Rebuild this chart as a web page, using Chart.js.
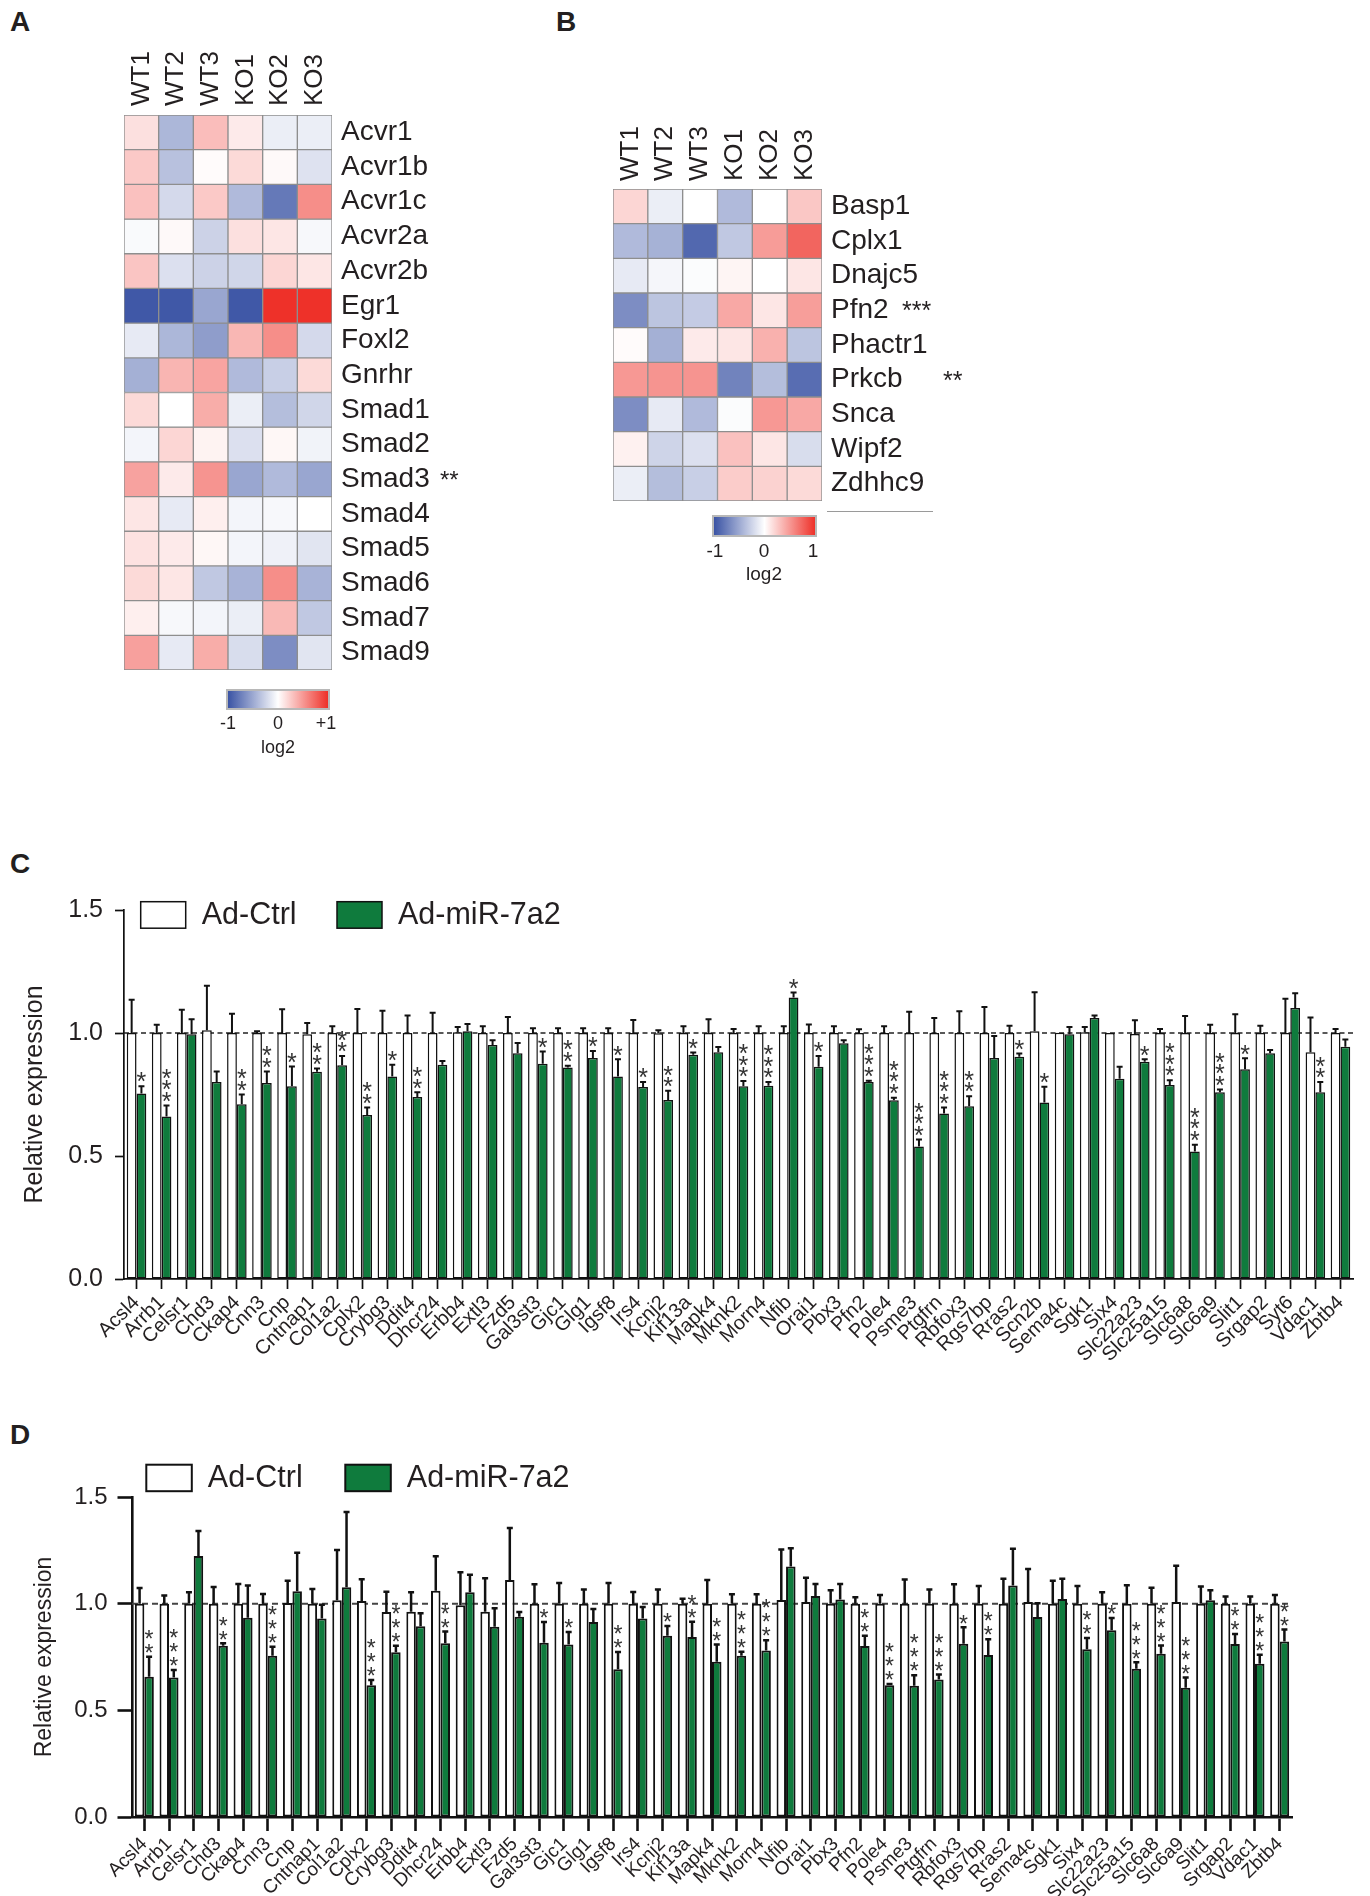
<!DOCTYPE html>
<html><head><meta charset="utf-8">
<script src="https://cdn.jsdelivr.net/npm/chart.js@4.4.1/dist/chart.umd.min.js"></script>
<style>
html,body{margin:0;padding:0;background:#fff;}
#page{position:relative;width:1370px;height:1896px;overflow:hidden;font-family:"Liberation Sans",Arial,Helvetica,sans-serif;color:#231f20;}
canvas{position:absolute;}
.lbl{position:absolute;line-height:1;white-space:nowrap;}
.panel{font-weight:bold;font-size:28px;}
.c{transform:translate(-50%,-50%);}
.cb{position:absolute;box-sizing:border-box;border:2px solid #b8b8b8;background:linear-gradient(to right, rgb(58,83,164), #ffffff 50%, rgb(238,49,41));}
</style></head>
<body><div id="page">
<div class="lbl panel" style="left:10px;top:8px">A</div>
<div class="lbl panel" style="left:556px;top:8px">B</div>
<div class="lbl panel" style="left:10px;top:850px">C</div>
<div class="lbl panel" style="left:10px;top:1421px">D</div>

<canvas id="hmA" width="560" height="700" style="left:0;top:0"></canvas>
<canvas id="hmB" width="450" height="600" style="left:560px;top:0"></canvas>
<canvas id="barC" width="1370" height="480" style="left:0;top:880px"></canvas>
<canvas id="barD" width="1370" height="456" style="left:0;top:1440px"></canvas>

<div class="cb" style="left:226px;top:689px;width:104px;height:21px"></div>
<div class="lbl c" style="left:228px;top:723px;font-size:18px">-1</div>
<div class="lbl c" style="left:278px;top:723px;font-size:18px">0</div>
<div class="lbl c" style="left:326px;top:723px;font-size:18px">+1</div>
<div class="lbl c" style="left:278px;top:747px;font-size:18px">log2</div>

<div style="position:absolute;left:827px;top:511px;width:106px;border-top:1.5px solid #9a9a9a"></div>
<div class="cb" style="left:712px;top:515px;width:105px;height:22px"></div>
<div class="lbl c" style="left:715px;top:550px;font-size:19px">-1</div>
<div class="lbl c" style="left:764px;top:550px;font-size:19px">0</div>
<div class="lbl c" style="left:813px;top:550px;font-size:19px">1</div>
<div class="lbl c" style="left:764px;top:573px;font-size:19px">log2</div>
</div>
<script>
const FONT = '"Liberation Sans", Arial, Helvetica, sans-serif';
const TXT = '#231f20';
const GREEN = '#0f7b3d';

// ---------- Heatmap data ----------
const samples = ['WT1','WT2','WT3','KO1','KO2','KO3'];
const genesA = ['Acvr1','Acvr1b','Acvr1c','Acvr2a','Acvr2b','Egr1','Foxl2','Gnrhr','Smad1','Smad2','Smad3','Smad4','Smad5','Smad6','Smad7','Smad9'];
const heatA = [
  [0.15,-0.42,0.32,0.10,-0.10,-0.10],
  [0.26,-0.36,0.02,0.18,0.03,-0.17],
  [0.30,-0.22,0.26,-0.40,-0.78,0.55],
  [-0.03,0.03,-0.26,0.15,0.12,-0.04],
  [0.28,-0.18,-0.26,-0.24,0.20,0.12],
  [-0.97,-0.97,-0.52,-0.97,1.00,1.00],
  [-0.12,-0.42,-0.57,0.35,0.55,-0.22],
  [-0.46,0.36,0.44,-0.40,-0.28,0.18],
  [0.18,0.00,0.40,-0.10,-0.38,-0.24],
  [-0.06,0.20,0.06,-0.18,0.04,-0.07],
  [0.45,0.10,0.52,-0.52,-0.40,-0.52],
  [0.12,-0.12,0.08,-0.06,-0.04,0.00],
  [0.14,0.10,0.04,-0.06,-0.08,-0.15],
  [0.18,0.12,-0.32,-0.44,0.55,-0.44],
  [0.08,-0.04,-0.06,-0.10,0.34,-0.32],
  [0.46,-0.12,0.40,-0.20,-0.66,-0.15]
];
const starsA = ['','','','','','','','','','','**','','','','',''];

const genesB = ['Basp1','Cplx1','Dnajc5','Pfn2','Phactr1','Prkcb','Snca','Wipf2','Zdhhc9'];
const heatB = [
  [0.20,-0.10,0.00,-0.40,0.00,0.27],
  [-0.40,-0.45,-0.88,-0.32,0.48,0.75],
  [-0.12,-0.05,-0.02,0.05,0.00,0.12],
  [-0.66,-0.34,-0.30,0.42,0.12,0.47],
  [0.02,-0.46,0.10,0.12,0.38,-0.34],
  [0.50,0.52,0.52,-0.72,-0.38,-0.85],
  [-0.66,-0.12,-0.40,-0.02,0.50,0.42],
  [0.07,-0.25,-0.18,0.30,0.12,-0.20],
  [-0.10,-0.38,-0.28,0.25,0.22,0.18]
];
const starsB = ['','','','***','','**','','',''];

// ---------- Bar chart data ----------
const seriesNames = ['Ad-Ctrl','Ad-miR-7a2'];
const yTickValues = [0, 0.5, 1.0, 1.5];

const categoriesC = ['Acsl4','Arrb1','Celsr1','Chd3','Ckap4','Cnn3','Cnp','Cntnap1','Col1a2','Cplx2','Crybg3','Ddit4','Dhcr24','Erbb4','Extl3','Fzd5','Gal3st3','Gjc1','Glg1','Igsf8','Irs4','Kcnj2','Kif13a','Mapk4','Mknk2','Morn4','Nfib','Orai1','Pbx3','Pfn2','Pole4','Psme3','Ptgfrn','Rbfox3','Rgs7bp','Rras2','Scn2b','Sema4c','Sgk1','Six4','Slc22a23','Slc25a15','Slc6a8','Slc6a9','Slit1','Srgap2','Syt6','Vdac1','Zbtb4'];
const ctrlC    = [1.00,1.00,1.00,1.011,1.00,1.00,1.00,0.995,1.00,1.00,1.00,1.00,1.00,1.003,1.00,1.00,1.00,1.00,1.00,1.00,1.00,0.999,1.00,1.00,1.00,1.00,1.00,1.00,1.00,1.00,1.00,1.00,1.00,1.00,1.00,1.00,1.007,1.001,1.003,1.00,0.996,1.00,1.00,1.00,1.00,1.00,1.00,0.922,1.00];
const ctrlSemC = [0.135,0.034,0.095,0.181,0.078,0.007,0.097,0.046,0.027,0.098,0.090,0.071,0.082,0.021,0.027,0.065,0.019,0.019,0.019,0.019,0.053,0.012,0.027,0.056,0.016,0.027,0.027,0.035,0.027,0.015,0.027,0.086,0.061,0.088,0.106,0.029,0.159,0.000,0.021,0.000,0.056,0.016,0.069,0.034,0.076,0.029,0.139,0.141,0.016];
const mirC     = [0.754,0.661,0.995,0.801,0.710,0.797,0.784,0.842,0.869,0.667,0.823,0.740,0.871,1.007,0.951,0.918,0.875,0.860,0.898,0.823,0.780,0.728,0.912,0.922,0.784,0.786,1.144,0.863,0.958,0.801,0.727,0.539,0.673,0.702,0.898,0.903,0.717,0.995,1.061,0.814,0.883,0.789,0.518,0.759,0.853,0.918,1.102,0.759,0.944];
const mirSemC  = [0.030,0.044,0.061,0.043,0.040,0.047,0.080,0.014,0.037,0.030,0.048,0.019,0.015,0.030,0.020,0.041,0.050,0.007,0.029,0.070,0.021,0.037,0.009,0.021,0.021,0.015,0.021,0.043,0.013,0.005,0.010,0.028,0.024,0.041,0.090,0.014,0.065,0.029,0.010,0.049,0.010,0.019,0.028,0.011,0.044,0.013,0.060,0.042,0.030];
const starsC   = [1,3,0,0,2,2,1,2,2,2,1,2,0,0,0,0,1,2,1,1,1,2,1,0,3,3,1,1,0,3,3,3,3,2,0,1,1,0,0,0,1,3,3,3,1,0,0,2,0];

const categoriesD = ['Acsl4','Arrb1','Celsr1','Chd3','Ckap4','Cnn3','Cnp','Cntnap1','Col1a2','Cplx2','Crybg3','Ddit4','Dhcr24','Erbb4','Extl3','Fzd5','Gal3st3','Gjc1','Glg1','Igsf8','Irs4','Kcnj2','Kif13a','Mapk4','Mknk2','Morn4','Nfib','Orai1','Pbx3','Pfn2','Pole4','Psme3','Ptgfrn','Rbfox3','Rgs7bp','Rras2','Sema4c','Sgk1','Six4','Slc22a23','Slc25a15','Slc6a8','Slc6a9','Slit1','Srgap2','Vdac1','Zbtb4'];
const ctrlD    = [1.00,1.00,1.00,1.00,1.00,1.00,1.003,1.00,1.016,1.013,0.961,0.962,1.061,0.992,0.962,1.111,1.00,1.00,1.00,1.00,1.00,1.00,1.00,1.00,1.00,1.00,1.017,1.008,1.00,1.00,1.00,1.00,1.00,1.00,1.00,1.00,1.008,1.00,1.00,1.00,1.00,1.00,1.008,1.00,1.00,1.00,1.00];
const ctrlSemD = [0.074,0.038,0.053,0.078,0.092,0.045,0.105,0.069,0.236,0.101,0.095,0.091,0.161,0.155,0.157,0.244,0.091,0.097,0.066,0.097,0.055,0.066,0.023,0.111,0.044,0.044,0.237,0.114,0.063,0.030,0.041,0.113,0.066,0.091,0.083,0.117,0.155,0.108,0.083,0.053,0.086,0.075,0.170,0.080,0.034,0.034,0.041];
const mirD     = [0.657,0.654,1.224,0.803,0.934,0.756,1.058,0.931,1.077,0.618,0.772,0.894,0.814,1.053,0.892,0.939,0.817,0.809,0.914,0.692,0.931,0.850,0.844,0.728,0.756,0.781,1.174,1.036,1.020,0.801,0.618,0.615,0.645,0.812,0.759,1.085,0.937,1.022,0.786,0.875,0.695,0.765,0.606,1.016,0.811,0.718,0.823];
const mirSemD  = [0.094,0.035,0.117,0.011,0.151,0.042,0.181,0.064,0.353,0.024,0.031,0.061,0.055,0.083,0.086,0.022,0.097,0.058,0.061,0.081,0.053,0.045,0.071,0.081,0.019,0.048,0.086,0.056,0.072,0.049,0.005,0.050,0.023,0.077,0.074,0.172,0.065,0.095,0.053,0.058,0.030,0.039,0.048,0.047,0.047,0.042,0.056];
const starsD   = [2,3,0,2,0,3,0,0,0,3,3,0,2,0,0,0,1,1,0,2,0,1,2,2,3,3,0,0,0,2,3,3,3,1,2,0,0,0,2,1,3,3,3,0,2,3,2];

// ---------- helpers ----------
function heatColor(v){
  const blue=[58,83,164], red=[238,49,41];
  const t=Math.min(1,Math.abs(v)); const c=v<0?blue:red;
  return 'rgb('+c.map(ch=>Math.round(255+(ch-255)*t)).join(',')+')';
}

function heatmap(id, genes, values, stars, o){
  const starPlugin = {
    id:'hmStars',
    afterDraw(chart){
      const {ctx, chartArea:a, scales:{y}} = chart;
      ctx.save(); ctx.fillStyle=TXT; ctx.font=o.starSize+'px '+FONT; ctx.textBaseline='middle'; ctx.textAlign='left';
      stars.forEach((s,i)=>{ if(!s) return; ctx.fillText(s, a.right+o.starX[i], y.getPixelForValue(i+0.5)+o.starDy); });
      ctx.restore();
    }
  };
  return new Chart(document.getElementById(id), {
    type:'bar',
    data:{ labels:samples, datasets: genes.map((g,i)=>({
      label:g, data:samples.map(()=>1), backgroundColor:values[i].map(heatColor),
      borderColor:'#8e8e8e', borderWidth:1, borderSkipped:false, barPercentage:1, categoryPercentage:1 })) },
    options:{
      responsive:false, animation:false, devicePixelRatio:1, events:[],
      layout:{padding:o.pad},
      plugins:{legend:{display:false}, tooltip:{enabled:false}},
      scales:{
        x:{ position:'top', stacked:true, grid:{display:false, drawTicks:false}, border:{display:false},
            ticks:{minRotation:90, maxRotation:90, autoSkip:false, padding:o.xPad, labelOffset:o.xOff, color:TXT, font:{family:FONT, size:o.xFont}},
            afterFit:s=>{s.height=o.xH;} },
        y:{ position:'right', stacked:true, reverse:true, min:0, max:genes.length,
            grid:{display:false, drawTicks:false}, border:{display:false},
            afterBuildTicks:s=>{ s.ticks = genes.map((_,i)=>({value:i+0.5})); },
            ticks:{autoSkip:false, padding:o.yPad, color:TXT, font:{family:FONT, size:o.yFont}, callback:(v,i)=>genes[i]},
            afterFit:s=>{s.width=o.yW;} }
      }
    },
    plugins:[starPlugin]
  });
}

function barChart(id, cats, ctrl, ctrlSem, mir, mirSem, stars, o){
  const decor = {
    id:'decor',
    beforeDatasetsDraw(chart){
      const {ctx, chartArea:a, scales:{y}} = chart;
      const yy = y.getPixelForValue(1);
      ctx.save(); ctx.strokeStyle=o.dashColor; ctx.lineWidth=o.dashW; ctx.setLineDash(o.dash);
      ctx.beginPath(); ctx.moveTo(a.left, yy); ctx.lineTo(a.right, yy); ctx.stroke(); ctx.restore();
    },
    afterDatasetsDraw(chart){
      const {ctx, scales:{y}} = chart;
      ctx.save(); ctx.strokeStyle='#111'; ctx.lineWidth=o.errW; ctx.setLineDash([]);
      chart.data.datasets.forEach((ds,di)=>{
        const meta = chart.getDatasetMeta(di);
        meta.data.forEach((bar,i)=>{
          const s = ds.sem[i]; if(!s) return;
          const yt = y.getPixelForValue(ds.data[i]+s);
          ctx.beginPath(); ctx.moveTo(bar.x, bar.y); ctx.lineTo(bar.x, yt);
          ctx.moveTo(bar.x-o.cap, yt); ctx.lineTo(bar.x+o.cap, yt); ctx.stroke();
        });
      });
      const meta = chart.getDatasetMeta(1), ds = chart.data.datasets[1];
      ctx.fillStyle='#333'; ctx.font=o.starSize+'px '+FONT; ctx.textAlign='center'; ctx.textBaseline='alphabetic';
      stars.forEach((n,i)=>{
        if(!n) return;
        const bar = meta.data[i];
        const top = y.getPixelForValue(ds.data[i]+(ds.sem[i]||0));
        for(let k=0;k<n;k++){
          const cy = top - o.starGap - k*o.starStep;
          ctx.fillText('*', bar.x, cy + 0.53*o.starSize);
        }
      });
      ctx.restore();
    },
    afterDraw(chart){
      const {ctx, chartArea:a} = chart;
      ctx.save();
      chart.data.datasets.forEach((ds,k)=>{
        const bx=a.left+o.legX[k], by=a.top+o.legY;
        ctx.fillStyle=ds.backgroundColor; ctx.fillRect(bx,by,o.legW,o.legH);
        ctx.lineWidth=o.legBorder; ctx.strokeStyle='#111'; ctx.strokeRect(bx,by,o.legW,o.legH);
        ctx.fillStyle=TXT; ctx.font=o.legFont+'px '+FONT; ctx.textBaseline='middle'; ctx.textAlign='left';
        ctx.fillText(ds.label, bx+o.legW+o.legGap, by+o.legH/2+1);
      });
      ctx.restore();
    }
  };
  return new Chart(document.getElementById(id), {
    type:'bar',
    data:{ labels:cats, datasets:[
      {label:seriesNames[0], data:ctrl, sem:ctrlSem, backgroundColor:'#ffffff', borderColor:'#111', borderWidth:o.bw, borderSkipped:false, categoryPercentage:o.cp, barPercentage:1},
      {label:seriesNames[1], data:mir, sem:mirSem, backgroundColor:GREEN, borderColor:'#111', borderWidth:o.bw, borderSkipped:false, categoryPercentage:o.cp, barPercentage:1}
    ]},
    options:{
      responsive:false, animation:false, devicePixelRatio:1, events:[],
      layout:{padding:{top:o.top, right:o.right, left:0, bottom:0}},
      plugins:{legend:{display:false}, tooltip:{enabled:false}},
      scales:{
        x:{ grid:{display:true, drawOnChartArea:false, offset:false, drawTicks:true, tickLength:o.xTick, tickWidth:o.aw, tickColor:'#111'},
            border:{display:true, color:'#111', width:o.aw},
            ticks:{minRotation:45, maxRotation:45, autoSkip:false, padding:o.xPad, color:TXT, font:{family:FONT, size:o.xFont}},
            afterFit:s=>{s.height=o.xH;} },
        y:{ min:0, max:1.5,
            grid:{display:true, drawOnChartArea:false, drawTicks:true, tickLength:o.yTick, tickWidth:o.aw, tickColor:'#111'},
            border:{display:true, color:'#111', width:o.aw},
            afterBuildTicks:s=>{ s.ticks = yTickValues.map(v=>({value:v})); },
            ticks:{padding:o.yPad, color:TXT, font:{family:FONT, size:o.yFont}, callback:v=>Number(v).toFixed(1)},
            title:{display:true, text:'Relative expression', color:TXT, font:{family:FONT, size:o.titleFont}, padding:{top:o.titlePad, bottom:0}},
            afterFit:s=>{s.width=o.yW;} }
      }
    },
    plugins:[decor]
  });
}

heatmap('hmA', genesA, heatA, starsA, {
  pad:{left:124, top:0, right:0, bottom:30}, xH:115, yW:228, xPad:9, xOff:31.2, yPad:9, xFont:26, yFont:28,
  starSize:24, starX:{10:108}, starDy:2
});
heatmap('hmB', genesB, heatB, starsB, {
  pad:{left:53, top:0, right:0, bottom:99}, xH:189, yW:188, xPad:8, xOff:31.2, yPad:9, xFont:26, yFont:28,
  starSize:25, starX:{3:80, 5:121}, starDy:2
});

barChart('barC', categoriesC, ctrlC, ctrlSemC, mirC, mirSemC, starsC, {
  top:30, right:17, xH:81, yW:124, cp:0.78, bw:1.5, aw:1.7, xTick:10, yTick:9, xPad:2, yPad:12,
  xFont:20, yFont:25, titleFont:25, titlePad:20,
  dashColor:'#222', dashW:1.5, dash:[5,3.5], errW:2, cap:3,
  starSize:25, starGap:9, starStep:11.5,
  legX:[16.7,213], legY:-8.3, legW:45, legH:26.5, legBorder:1.5, legGap:16, legFont:30.5
});
barChart('barD', categoriesD, ctrlD, ctrlSemD, mirD, mirSemD, starsD, {
  top:57, right:78, xH:79, yW:132, cp:0.77, bw:2, aw:2.6, xTick:14, yTick:14.5, xPad:2, yPad:10,
  xFont:19, yFont:24, titleFont:23, titlePad:31,
  dashColor:'#444', dashW:2, dash:[6,4], errW:2.5, cap:3,
  starSize:23, starGap:8, starStep:14,
  legX:[14.3,213.3], legY:-32.3, legW:45.5, legH:26.5, legBorder:2, legGap:16, legFont:30.5
});
</script>
</body></html>
